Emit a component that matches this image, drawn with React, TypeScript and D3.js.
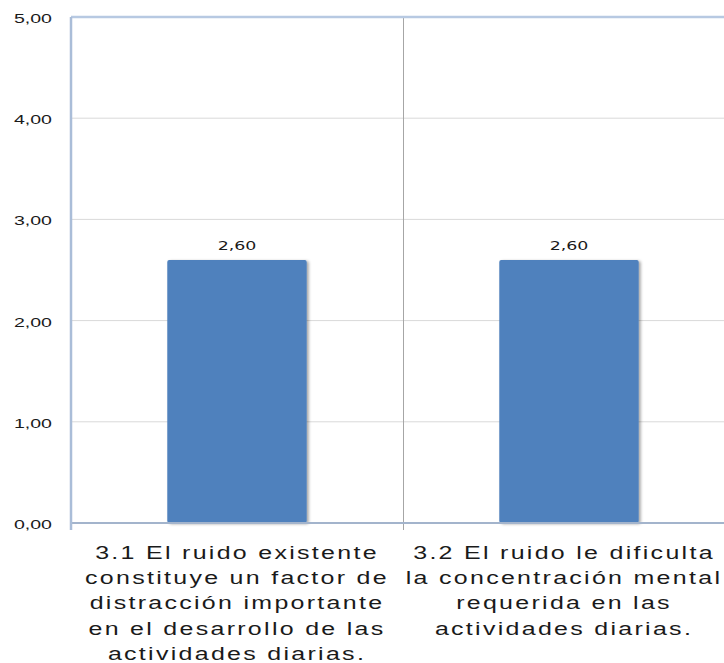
import React, { useEffect, useRef } from 'react';
import * as d3 from 'd3';

// chart data
const categories = ['3.1', '3.2'];
const values = [2.6, 2.6];
const categoryLines = [
  ['3.1 El ruido existente', 'constituye un factor de', 'distracción importante', 'en el desarrollo de las', 'actividades diarias.'],
  ['3.2 El ruido le dificulta', 'la concentración mental', 'requerida en las', 'actividades diarias.'],
];
const yTicks = [0, 1, 2, 3, 4, 5];

const fmt = (v: number) => v.toFixed(2).replace('.', ',');

export default function App() {
  const svgRef = useRef<SVGSVGElement>(null);
  const width = 724;
  const height = 663;

  useEffect(() => {
    const svg = d3.select(svgRef.current);
    svg.selectAll('*').remove();

    const left = 71;
    const right = 735;
    const top = 17;
    const bottom = 523;

    const y = d3.scaleLinear().domain([0, 5]).range([bottom, top]);
    const x = d3.scaleBand<string>().domain(categories).range([left, right]).padding(0);
    const barW = x.bandwidth() * 0.42;

    const defs = svg.append('defs');
    const f = defs.append('filter').attr('id', 'shadow').attr('x', '-10%').attr('y', '-10%').attr('width', '130%').attr('height', '130%');
    f.append('feDropShadow').attr('dx', 2).attr('dy', 1).attr('stdDeviation', 1.5).attr('flood-color', '#000').attr('flood-opacity', 0.35);

    // gridlines
    svg.append('g')
      .selectAll('line')
      .data(yTicks.filter(t => t > 0 && t < 5))
      .enter()
      .append('line')
      .attr('x1', left).attr('x2', right)
      .attr('y1', d => y(d)).attr('y2', d => y(d))
      .attr('stroke', '#d9d9d9').attr('stroke-width', 1);

    // category dividers
    svg.append('g')
      .selectAll('line')
      .data(categories.slice(1))
      .enter()
      .append('line')
      .attr('x1', d => x(d)! + 0.5).attr('x2', d => x(d)! + 0.5)
      .attr('y1', top).attr('y2', bottom + 7)
      .attr('stroke', '#a6a6a6').attr('stroke-width', 1);

    // top border
    svg.append('line')
      .attr('x1', left).attr('x2', right)
      .attr('y1', y(5)).attr('y2', y(5))
      .attr('stroke', '#b7c9e2').attr('stroke-width', 2.5);

    // bars
    svg.append('g')
      .selectAll('rect')
      .data(values)
      .enter()
      .append('rect')
      .attr('x', (d, i) => x(categories[i])! + (x.bandwidth() - barW) / 2)
      .attr('y', d => y(d))
      .attr('width', barW)
      .attr('height', d => bottom - y(d))
      .attr('rx', 2)
      .attr('fill', '#4f81bd')
      .attr('filter', 'url(#shadow)');

    // axes lines
    svg.append('line')
      .attr('x1', left).attr('x2', right)
      .attr('y1', bottom).attr('y2', bottom)
      .attr('stroke', '#a3b4cc').attr('stroke-width', 2);
    svg.append('line')
      .attr('x1', left).attr('x2', left)
      .attr('y1', top).attr('y2', bottom + 7)
      .attr('stroke', '#aabdd8').attr('stroke-width', 2.5);

    // y tick labels
    svg.append('g')
      .selectAll('text')
      .data(yTicks)
      .enter()
      .append('text')
      .attr('transform', d => `translate(52,${y(d) + 6}) scale(1.45,1)`)
      .attr('text-anchor', 'end')
      .style('font-family', 'Liberation Sans, Arial, sans-serif')
      .style('font-size', '13.5px')
      .style('fill', '#1a1a1a')
      .text(d => fmt(d));

    // data labels
    svg.append('g')
      .selectAll('text')
      .data(values)
      .enter()
      .append('text')
      .attr('transform', (d, i) => `translate(${x(categories[i])! + x.bandwidth() / 2},${y(d) - 10}) scale(1.45,1)`)
      .attr('text-anchor', 'middle')
      .style('font-family', 'DejaVu Sans, sans-serif')
      .style('font-size', '12px')
      .style('fill', '#1a1a1a')
      .text(d => fmt(d));

    // category labels
    categories.forEach((c, i) => {
      const cx = x(c)! + x.bandwidth() / 2 - (i === 1 ? 5 : 0);
      svg.append('g')
        .selectAll('text')
        .data(categoryLines[i])
        .enter()
        .append('text')
        .attr('transform', (d, j) => `translate(${cx},${559 + j * 25.2}) scale(1.35,1)`)
        .attr('text-anchor', 'middle')
        .style('font-family', 'Liberation Sans, Arial, sans-serif')
        .style('font-size', '18.5px')
        .style('letter-spacing', '1.7px')
        .style('fill', '#1a1a1a')
        .text(d => d);
    });
  }, []);

  return (
    <div style={{ position: 'absolute', left: 0, top: 0 }}>
      <svg ref={svgRef} width={width} height={height} style={{ display: 'block', background: 'white' }} />
    </div>
  );
}
